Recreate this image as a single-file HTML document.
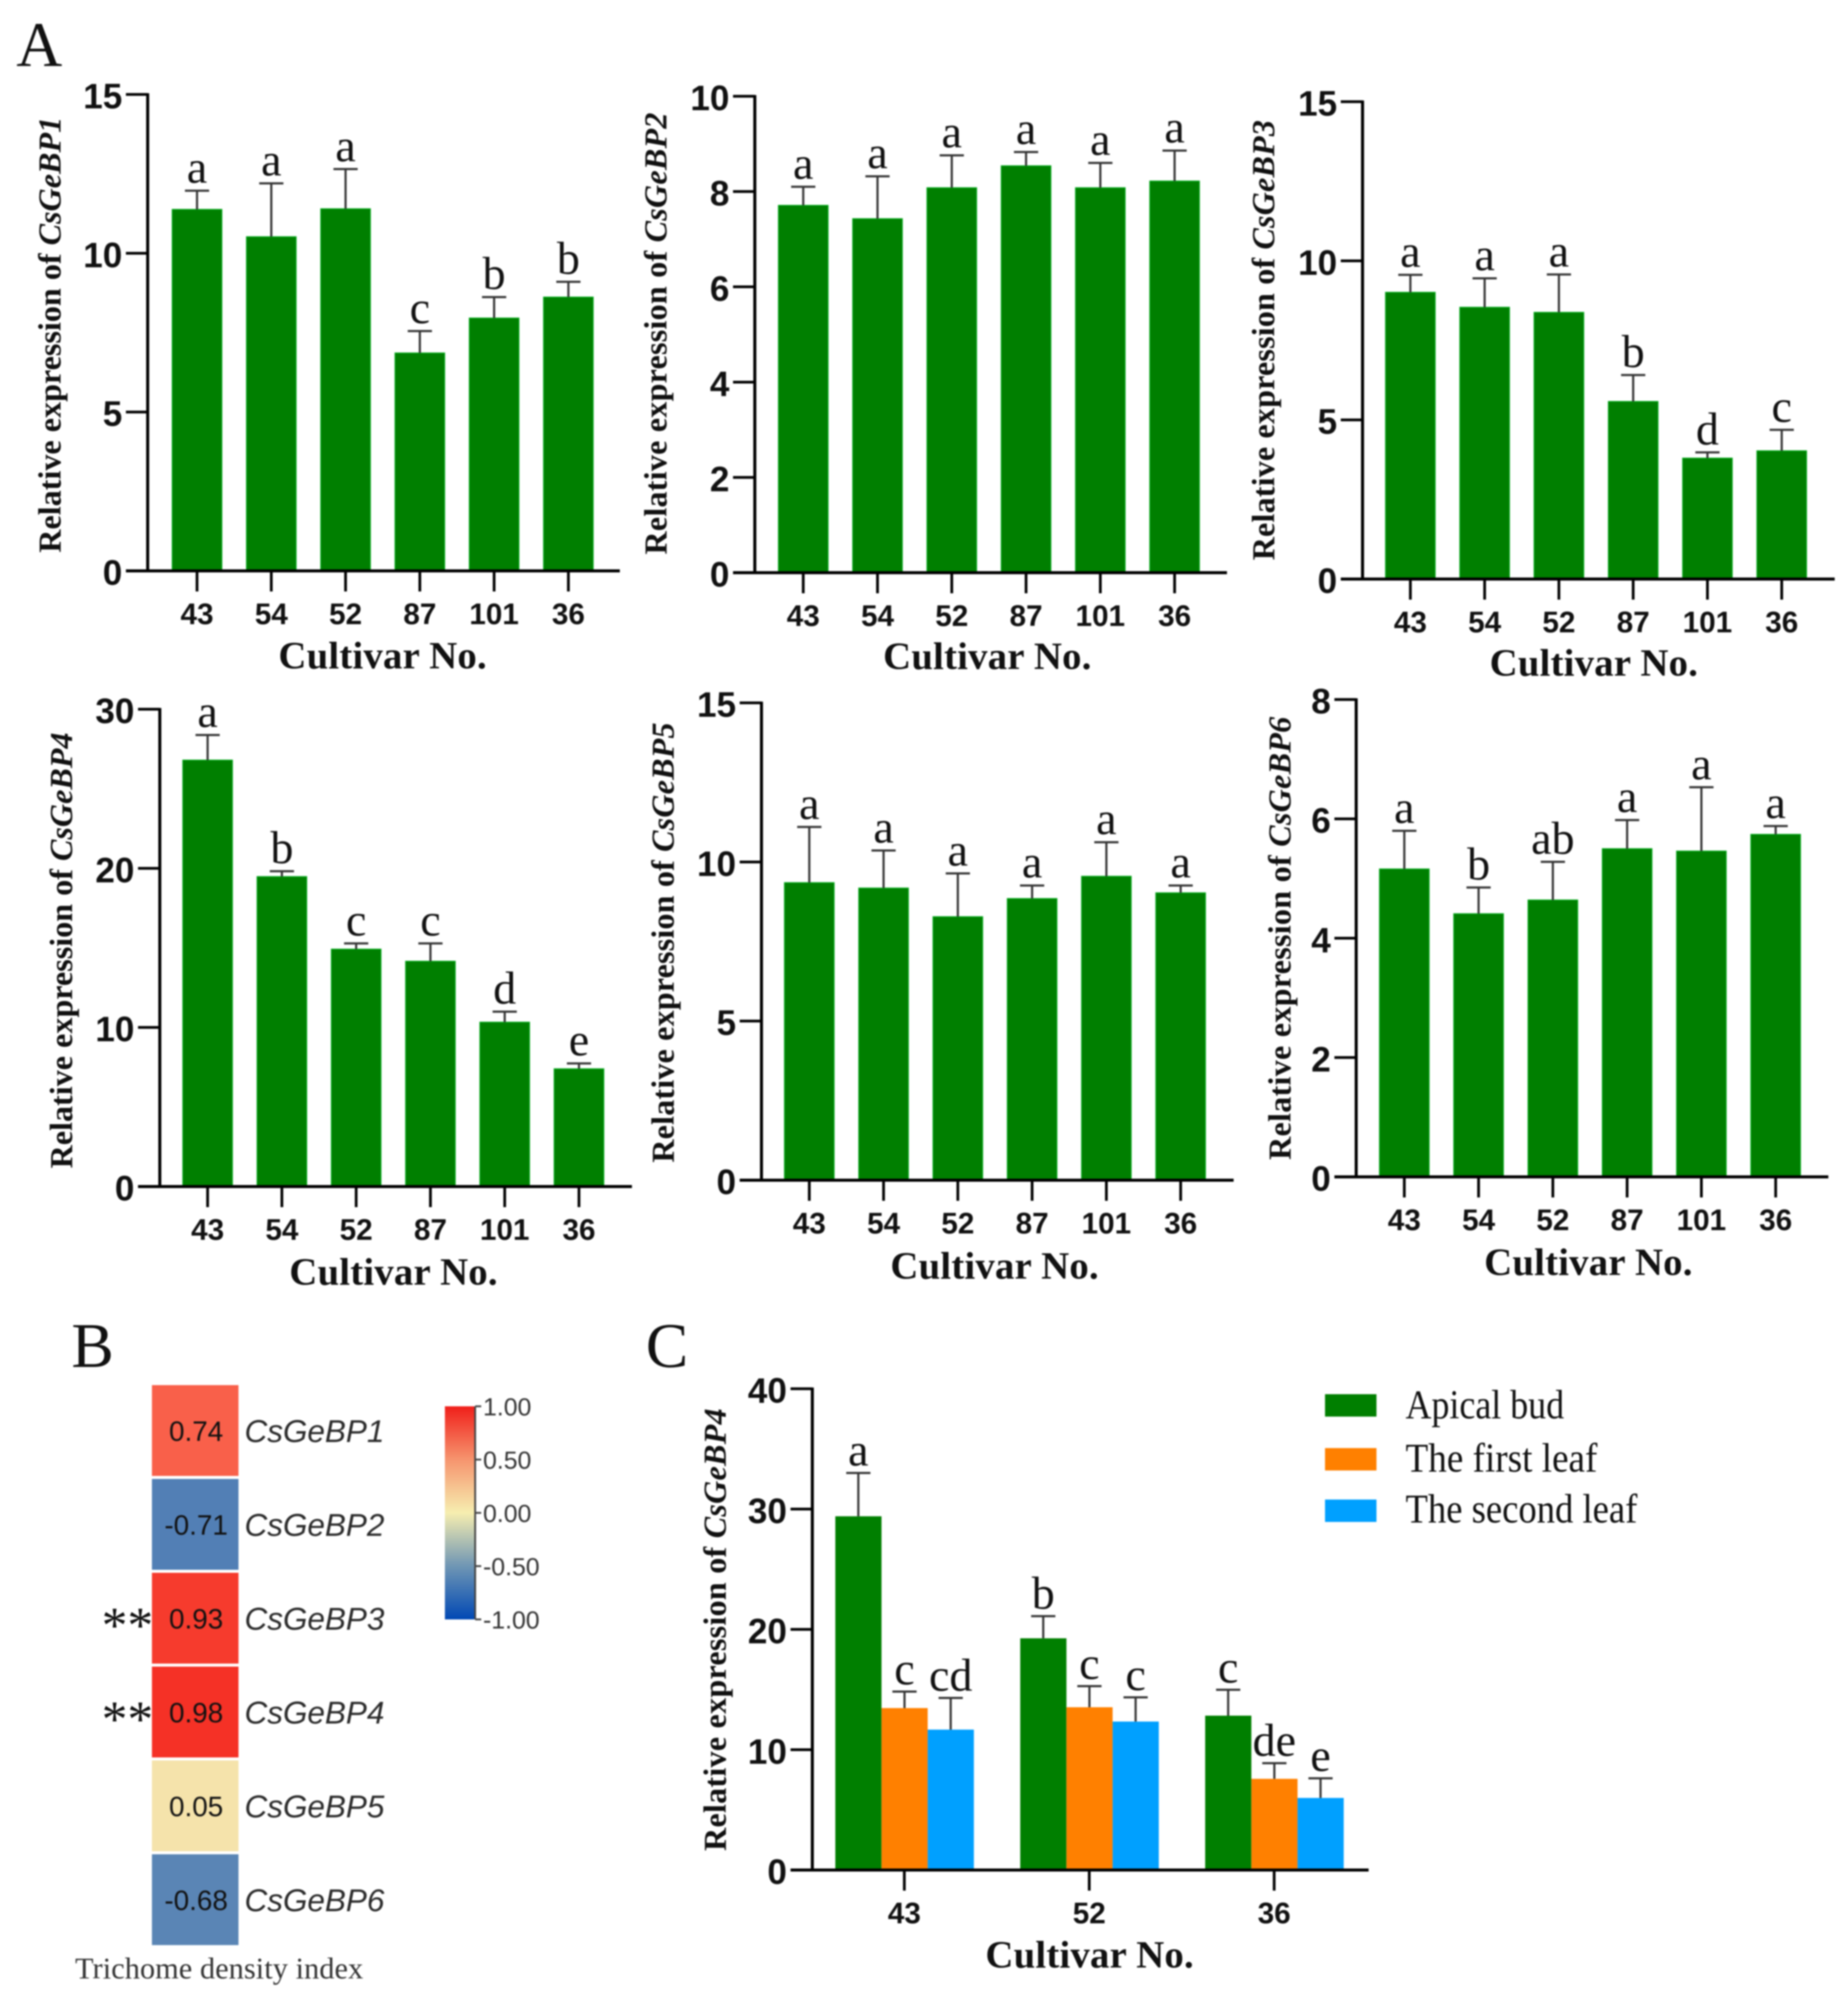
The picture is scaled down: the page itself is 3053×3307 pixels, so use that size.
<!DOCTYPE html>
<html>
<head>
<meta charset="utf-8">
<title>CsGeBP expression figure</title>
<style>
html,body{margin:0;padding:0;background:#fff}
svg{display:block;filter:blur(1.4px)}
text{fill:#111}
.tick{font:700 58px "Liberation Sans",sans-serif}
.xtick{font:700 49px "Liberation Sans",sans-serif;text-anchor:middle}
.xtitle{font:700 64px "Liberation Serif",serif;text-anchor:middle}
.ytitle{font:700 53px "Liberation Serif",serif;text-anchor:middle}
.sig{font:400 76px "Liberation Serif",serif;text-anchor:middle}
.panel{font:400 105px "Liberation Serif",serif}
.legend{font:400 68px "Liberation Serif",serif}
.cell{font:400 46px "Liberation Sans",sans-serif;text-anchor:middle}
.gene{font:italic 400 52px "Liberation Sans",sans-serif;fill:#2b2b2b}
.cbar{font:400 41px "Liberation Sans",sans-serif;fill:#333}
</style>
</head>
<body>
<svg id="figure" xmlns="http://www.w3.org/2000/svg" width="3053" height="3307" viewBox="0 0 3053 3307">
<defs>
<linearGradient id="cbarGrad" x1="0" y1="0" x2="0" y2="1">
<stop offset="0" stop-color="#f01f1a"/>
<stop offset="0.25" stop-color="#f6946e"/>
<stop offset="0.5" stop-color="#f6eeb0"/>
<stop offset="0.75" stop-color="#6f96b4"/>
<stop offset="1" stop-color="#0048b4"/>
</linearGradient>
</defs>
<text class="panel" x="27" y="109">A</text>
<text class="panel" x="118" y="2258">B</text>
<text class="panel" x="1067" y="2258">C</text>
</svg>
<script>
var cultivars = ['43','54','52','87','101','36'];

var gebp1Values = [11.38,10.52,11.4,6.86,7.96,8.62];
var gebp1Errors = [11.97,12.2,12.65,7.55,8.62,9.1];
var gebp1Letters = ['a','a','a','c','b','b'];
var gebp1Ticks = [0,5,10,15];

var gebp2Values = [7.71,7.43,8.08,8.54,8.08,8.22];
var gebp2Errors = [8.1,8.32,8.76,8.83,8.6,8.86];
var gebp2Letters = ['a','a','a','a','a','a'];
var gebp2Ticks = [0,2,4,6,8,10];

var gebp3Values = [9.01,8.54,8.38,5.58,3.8,4.03];
var gebp3Errors = [9.56,9.45,9.57,6.41,3.98,4.69];
var gebp3Letters = ['a','a','a','b','d','c'];
var gebp3Ticks = [0,5,10,15];

var gebp4Values = [26.8,19.48,14.92,14.16,10.33,7.4];
var gebp4Errors = [28.38,19.82,15.28,15.28,10.99,7.74];
var gebp4Letters = ['a','b','c','c','d','e'];
var gebp4Ticks = [0,10,20,30];

var gebp5Values = [9.35,9.18,8.28,8.85,9.55,9.03];
var gebp5Errors = [11.1,10.36,9.64,9.26,10.62,9.26];
var gebp5Letters = ['a','a','a','a','a','a'];
var gebp5Ticks = [0,5,10,15];

var gebp6Values = [5.16,4.41,4.64,5.5,5.46,5.74];
var gebp6Errors = [5.8,4.85,5.28,5.98,6.53,5.88];
var gebp6Letters = ['a','b','ab','a','a','a'];
var gebp6Ticks = [0,2,4,6,8];

var tissueCultivars = ['43','52','36'];
var tissueNames = ['Apical bud','The first leaf','The second leaf'];
var tissueValues = [[29.4,19.26,12.83],[13.46,13.53,7.58],[11.67,12.34,5.99]];
var tissueErrors = [[33.0,21.1,14.98],[14.83,15.28,8.88],[14.3,14.35,7.62]];
var tissueLetters = [['a','b','c'],['c','c','de'],['cd','c','e']];
var tissueTicks = [0,10,20,30,40];

var heatGenes = ['CsGeBP1','CsGeBP2','CsGeBP3','CsGeBP4','CsGeBP5','CsGeBP6'];
var heatValues = [0.74,-0.71,0.93,0.98,0.05,-0.68];
var heatLabels = ['0.74','-0.71','0.93','0.98','0.05','-0.68'];
var heatStars = ['','','**','**','',''];
var colorbarTicks = [1,0.5,0,-0.5,-1];
var colorbarLabels = ['1.00','0.50','0.00','-0.50','-1.00'];

var svg = document.getElementById('figure');
var NS = 'http://www.w3.org/2000/svg';
function mk(parent, tag, props, txt){
  var e = document.createElementNS(NS, tag);
  for (var k in props) e.setAttribute(k, props[k]);
  if (txt !== undefined) e.textContent = txt;
  parent.appendChild(e);
  return e;
}

function yAxisFn(y0, yTop, max){ return function(v){ return y0 - (y0 - yTop) * v / max; }; }

function drawAxes(g, ax, y, ticks, geneName, ly){
  var yl = mk(g,'line',{x1:ax,x2:ax,y1:y(ticks[ticks.length-1])-2,y2:y(0)+2,stroke:'#000','stroke-width':5});
  
  
  var xl = mk(g,'line',{x1:ax-36,x2:ly.xEnd,y1:y(0),y2:y(0),stroke:'#000','stroke-width':5});
  
  
  ticks.forEach(function(t){
    var tl = mk(g,'line',{x1:ax-36,x2:ax,y1:y(t),y2:y(t),stroke:'#000','stroke-width':4.5});
    
    
    var tx = mk(g,'text',{'class':'tick',x:ax-42,y:y(t)+23,'text-anchor':'end'},String(t));
    
    
  });
  var xt = mk(g,'text',{'class':'xtitle',x:ly.xTitleX,y:ly.xTitleY,textLength:344},'Cultivar No.');
  
  
  var yt = mk(g,'text',{'class':'ytitle',transform:'translate('+ly.yTitleX+','+ly.yTitleY+') rotate(-90)',textLength:ly.yTitleLen});
  
  
  mk(yt,'tspan',{},'Relative expression of ');
  mk(yt,'tspan',{'font-style':'italic'},geneName);
}

function drawError(g, cx, yTop, yBar){
  var st = mk(g,'line',{x1:cx,x2:cx,y1:yTop,y2:yBar,stroke:'#333','stroke-width':3.5});
  
  
  var cp = mk(g,'line',{x1:cx-20,x2:cx+20,y1:yTop,y2:yTop,stroke:'#333','stroke-width':3.5});
  
  
}

function drawXTick(g, cx, y0, label){
  var t = mk(g,'line',{x1:cx,x2:cx,y1:y0,y2:y0+34,stroke:'#000','stroke-width':4.5});
  
  
  var l = mk(g,'text',{'class':'xtick',x:cx,y:y0+88},label);
  
  
}

function drawGenePanel(name, gene, values, errors, letters, ticks, ly){
  var g = mk(svg,'g',{});
  
  
  var max = ticks[ticks.length-1];
  var y = yAxisFn(ly.y0, ly.yTop, max);
  var x = function(i){ return ly.first + i * 122.7; };
  cultivars.forEach(function(c,i){
    var b = mk(g,'rect',{x:x(i)-41,y:y(values[i]),width:82,height:ly.y0-y(values[i]),fill:'#007f00',stroke:'#00a818','stroke-width':1.5});
    
    
    drawError(g, x(i), y(errors[i]), y(values[i]));
    var s = mk(g,'text',{'class':'sig',x:x(i),y:y(errors[i])-13},letters[i]);
    
    
    drawXTick(g, x(i), ly.y0, c);
  });
  ly.xEnd = ly.ax + 780;
  drawAxes(g, ly.ax, y, ticks, gene, ly);
}

drawGenePanel('chart-csgebp1','CsGeBP1',gebp1Values,gebp1Errors,gebp1Letters,gebp1Ticks,{ax:244,y0:943,yTop:156,first:325.5,xTitleX:632,xTitleY:1104,yTitleX:100,yTitleY:553,yTitleLen:720});
drawGenePanel('chart-csgebp2','CsGeBP2',gebp2Values,gebp2Errors,gebp2Letters,gebp2Ticks,{ax:1247,y0:946,yTop:159,first:1327,xTitleX:1631,xTitleY:1105,yTitleX:1101,yTitleY:551,yTitleLen:730});
drawGenePanel('chart-csgebp3','CsGeBP3',gebp3Values,gebp3Errors,gebp3Letters,gebp3Ticks,{ax:2251,y0:956.5,yTop:168,first:2330,xTitleX:2633,xTitleY:1116,yTitleX:2105,yTitleY:562,yTitleLen:727});
drawGenePanel('chart-csgebp4','CsGeBP4',gebp4Values,gebp4Errors,gebp4Letters,gebp4Ticks,{ax:264,y0:1960,yTop:1171.5,first:343,xTitleX:650,xTitleY:2122,yTitleX:119,yTitleY:1570,yTitleLen:720});
drawGenePanel('chart-csgebp5','CsGeBP5',gebp5Values,gebp5Errors,gebp5Letters,gebp5Ticks,{ax:1258,y0:1949.5,yTop:1161,first:1337,xTitleX:1643,xTitleY:2112,yTitleX:1113,yTitleY:1557,yTitleLen:727});
drawGenePanel('chart-csgebp6','CsGeBP6',gebp6Values,gebp6Errors,gebp6Letters,gebp6Ticks,{ax:2240.5,y0:1944,yTop:1155.5,first:2320,xTitleX:2624,xTitleY:2106,yTitleX:2132,yTitleY:1550,yTitleLen:732});

(function(){
  var g = mk(svg,'g',{});
  
  
  var ly = {ax:1342,y0:3089,yTop:2294,xEnd:2261,xTitleX:1800,xTitleY:3250,yTitleX:1199,yTitleY:2692,yTitleLen:731};
  var colors = ['#007f00','#ff8000','#00a0ff'];
  var y = yAxisFn(ly.y0, ly.yTop, tissueTicks[tissueTicks.length-1]);
  tissueCultivars.forEach(function(c,gi){
    var gx = 1380 + gi * 305.5;
    tissueNames.forEach(function(n,si){
      var bx = gx + si * 76.3;
      var v = tissueValues[si][gi], e = tissueErrors[si][gi];
      var b = mk(g,'rect',{x:bx,y:y(v),width:76.3,height:ly.y0-y(v),fill:colors[si]});
      
      
      drawError(g, bx+38, y(e), y(v));
      var s = mk(g,'text',{'class':'sig',x:bx+38,y:y(e)-12},tissueLetters[si][gi]);
      
      
    });
    drawXTick(g, gx + 114, ly.y0, c);
  });
  drawAxes(g, ly.ax, y, tissueTicks, 'CsGeBP4', ly);
  var legY = [2303,2392,2477];
  var legT = [2343,2431,2515];
  var legW = [262,317,383];
  tissueNames.forEach(function(n,i){
    var r = mk(g,'rect',{x:2189,y:legY[i],width:85,height:37,fill:colors[i]});
    
    
    var t = mk(g,'text',{'class':'legend',x:2322,y:legT[i],textLength:legW[i],lengthAdjust:'spacingAndGlyphs'},n);
    
    
  });
})();

(function(){
  var g = mk(svg,'g',{});
  
  
  var stops = [[1,[245,45,35]],[0.74,[249,96,74]],[0.05,[245,227,171]],[-0.68,[90,133,181]],[-1,[0,72,180]]];
  function color(v){
    for (var i=0;i<stops.length-1;i++){
      var a=stops[i], b=stops[i+1];
      if (v<=a[0] && v>=b[0]){
        var f=(a[0]-v)/(a[0]-b[0]);
        return 'rgb('+[0,1,2].map(function(k){return Math.round(a[1][k]+(b[1][k]-a[1][k])*f);}).join(',')+')';
      }
    }
    return '#888';
  }
  var y = function(i){ return 2288 + i * 155; };
  heatValues.forEach(function(v,i){
    var c = mk(g,'rect',{x:251,y:y(i),width:143,height:150,fill:color(v)});
    
    
    var t = mk(g,'text',{'class':'cell',x:324,y:y(i)+92},heatLabels[i]);
    
    
    var n = mk(g,'text',{'class':'gene',x:404,y:y(i)+94,textLength:231},heatGenes[i]);
    
    
    if (heatStars[i]){
      var s = mk(g,'text',{x:168,y:y(i)+115,style:'font:400 85px "Liberation Serif",serif'},heatStars[i]);
      
      
    }
  });
  var tri = mk(g,'text',{x:124,y:3268,textLength:476,style:'font:400 50px "Liberation Serif",serif;fill:#333'},'Trichome density index');
  
  
  var cb = mk(g,'rect',{x:735,y:2323,width:49,height:352,fill:'url(#cbarGrad)'});
  
  
  var cl = mk(g,'line',{x1:785,x2:785,y1:2323,y2:2675,stroke:'#444','stroke-width':3});
  
  
  colorbarTicks.forEach(function(v,i){
    var yy = 2323 + (1 - v) / 2 * 352;
    var t = mk(g,'line',{x1:785,x2:795,y1:yy,y2:yy,stroke:'#444','stroke-width':3});
    
    
    var l = mk(g,'text',{'class':'cbar',x:798,y:yy+15},colorbarLabels[i]);
    
    
  });
})();
</script>
</body>
</html>
